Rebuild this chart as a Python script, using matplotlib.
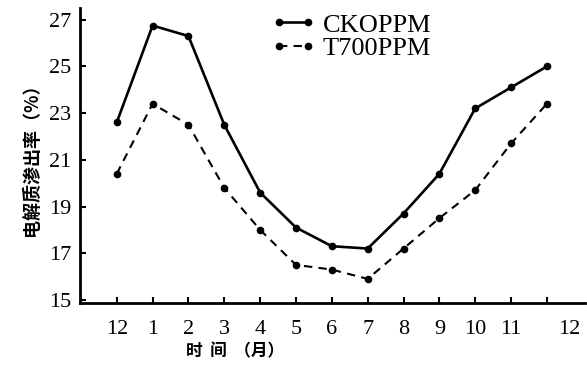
import matplotlib
matplotlib.use('Agg')
import matplotlib.pyplot as plt

matplotlib.rcParams['font.family'] = ['Liberation Serif', 'DejaVu Serif']

months = ['12', '1', '2', '3', '4', '5', '6', '7', '8', '9', '10', '11', '12']
ck = [22.6, 26.75, 26.3, 22.5, 19.6, 18.1, 17.3, 17.2, 18.7, 20.4, 23.2, 24.1, 25.0]
t700 = [20.4, 23.4, 22.5, 19.8, 18.0, 16.5, 16.3, 15.9, 17.2, 18.5, 19.7, 21.7, 23.4]
yticks = [15, 17, 19, 21, 23, 25, 27]

CJK = ['Noto Sans CJK SC', 'DejaVu Sans']


def main():
  fig = plt.figure(figsize=(5.87, 3.83), dpi=100)
  ax = fig.add_axes([0.136, 0.209, 0.861, 0.770])
  x = list(range(len(months)))

  ax.plot(x, ck, color='black', lw=1.9, marker='o', ms=4.5, label='CKOPPM')
  ax.plot(x, t700, color='black', lw=1.5, ls=(0, (4, 3)), marker='o', ms=4.5, label='T700PPM')

  ax.set_xlim(-1.03, 13.07)
  ax.set_ylim(14.87, 27.5)
  ax.set_yticks(yticks)
  ax.set_yticklabels([str(v) for v in yticks], fontsize=16)
  ax.set_xticks(x)
  # the last "12" is drawn a bit right of its tick in the original
  ax.set_xticklabels(months[:-1] + [''], fontsize=16)
  ax.annotate(months[-1], xy=(x[-1], 0), xycoords=ax.get_xaxis_transform(),
              xytext=(16, -12), textcoords='offset points', ha='center', va='top', fontsize=16)

  for s in ['top', 'right']:
    ax.spines[s].set_visible(False)
  for s in ['left', 'bottom']:
    ax.spines[s].set_linewidth(2.0)
  ax.tick_params(axis='both', direction='in', length=4, width=1.5, pad=6)
  ax.tick_params(axis='x', pad=12)

  ax.set_ylabel('电解质渗出率（%）', family=CJK, fontsize=13, fontweight='bold', labelpad=6)
  ax.text(0.307, -0.165, '时  间  （月）', transform=ax.transAxes, ha='center', va='center',
          family=CJK, fontsize=12, fontweight='bold')

  ax.legend(loc='upper left', bbox_to_anchor=(0.44, 1.0), bbox_transform=fig.transFigure,
            frameon=False, fontsize=19, numpoints=2, handlelength=1.7,
            handletextpad=0.25, labelspacing=0.0, borderpad=0.0)

  fig.savefig('out.png', dpi=100)


if __name__ == "__main__":
  main()
